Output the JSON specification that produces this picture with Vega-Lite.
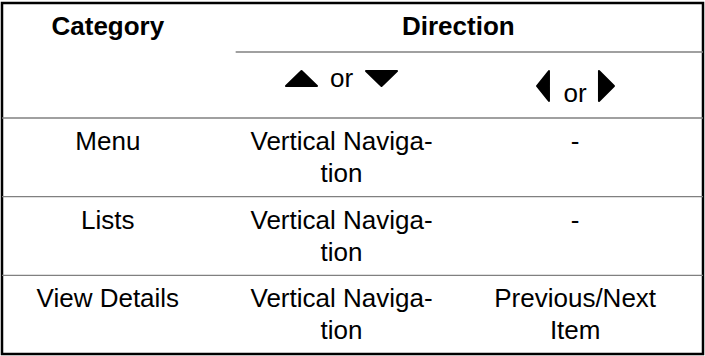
{
  "$schema": "https://vega.github.io/schema/vega-lite/v6.json",
  "width": 701,
  "height": 351,
  "padding": {"left": 2, "top": 3, "right": 2, "bottom": 2},
  "autosize": {"type": "none"},
  "background": "white",
  "config": {
    "view": {"stroke": "black", "strokeWidth": 2.5},
    "text": {"font": "Liberation Sans", "fontSize": 26, "color": "black"}
  },
  "datasets": {
    "cells": [
      {"category": "Menu", "upDown": "Vertical Naviga-\ntion", "leftRight": "-"},
      {"category": "Lists", "upDown": "Vertical Naviga-\ntion", "leftRight": "-"},
      {"category": "View Details", "upDown": "Vertical Naviga-\ntion", "leftRight": "Previous/Next\nItem"}
    ],
    "headers": [
      {"label": "Category", "col": "category"},
      {"label": "Direction", "col": "upDown"}
    ],
    "keys": [
      {"col": "upDown", "joiner": "or"},
      {"col": "leftRight", "joiner": "or"}
    ]
  },
  "resolve": {"scale": {"y": "independent"}},
  "layer": [
    {
      "data": {"name": "cells"},
      "mark": {"type": "rule", "color": "#808080", "strokeWidth": 1.3},
      "encoding": {
        "y": {"field": "category", "type": "nominal", "bandPosition": 0,
              "scale": {"type": "band", "domain": ["Menu", "Lists", "View Details"], "range": [115, 351], "paddingInner": 0, "paddingOuter": 0},
              "axis": null}
      }
    },
    {
      "data": {"name": "cells"},
      "transform": [{"fold": ["category", "upDown", "leftRight"], "as": ["col", "cell"]}],
      "mark": {"type": "text", "align": "center", "baseline": "alphabetic", "lineBreak": "\n", "lineHeight": 32, "dx": -11, "dy": 32},
      "encoding": {
        "x": {"field": "col", "type": "nominal", "bandPosition": 0.5,
              "scale": {"type": "band", "domain": ["category", "upDown", "leftRight"], "paddingInner": 0, "paddingOuter": 0},
              "axis": null},
        "y": {"field": "category", "type": "nominal", "bandPosition": 0,
              "scale": {"type": "band", "domain": ["Menu", "Lists", "View Details"], "range": [115, 351], "paddingInner": 0, "paddingOuter": 0},
              "axis": null},
        "text": {"field": "cell"}
      }
    },
    {
      "data": {"name": "headers"},
      "transform": [{"filter": "datum.label === 'Direction'"}],
      "mark": {"type": "rule", "color": "#808080", "strokeWidth": 1.3},
      "encoding": {
        "x": {"field": "col", "type": "nominal", "bandPosition": 0,
              "scale": {"type": "band", "domain": ["category", "upDown", "leftRight"], "paddingInner": 0, "paddingOuter": 0},
              "axis": null},
        "x2": {"value": "width"},
        "y": {"datum": "keys", "type": "nominal", "bandPosition": 0,
              "scale": {"type": "band", "domain": ["title", "keys"], "range": [0, 98], "paddingInner": 0, "paddingOuter": 0},
              "axis": null}
      }
    },
    {
      "data": {"name": "headers"},
      "transform": [{"filter": "datum.label === 'Category'"}],
      "mark": {"type": "text", "align": "center", "baseline": "alphabetic", "fontWeight": "bold", "dx": -11, "dy": 32},
      "encoding": {
        "x": {"field": "col", "type": "nominal", "bandPosition": 0.5,
              "scale": {"type": "band", "domain": ["category", "upDown", "leftRight"], "paddingInner": 0, "paddingOuter": 0},
              "axis": null},
        "y": {"datum": "title", "type": "nominal", "bandPosition": 0,
              "scale": {"type": "band", "domain": ["title", "keys"], "range": [0, 98], "paddingInner": 0, "paddingOuter": 0},
              "axis": null},
        "text": {"field": "label"}
      }
    },
    {
      "data": {"name": "headers"},
      "transform": [{"filter": "datum.label === 'Direction'"}],
      "mark": {"type": "text", "align": "center", "baseline": "alphabetic", "fontWeight": "bold", "dx": -11, "dy": 32},
      "encoding": {
        "x": {"field": "col", "type": "nominal", "bandPosition": 1,
              "scale": {"type": "band", "domain": ["category", "upDown", "leftRight"], "paddingInner": 0, "paddingOuter": 0},
              "axis": null},
        "y": {"datum": "title", "type": "nominal", "bandPosition": 0,
              "scale": {"type": "band", "domain": ["title", "keys"], "range": [0, 98], "paddingInner": 0, "paddingOuter": 0},
              "axis": null},
        "text": {"field": "label"}
      }
    },
    {
      "data": {"name": "keys"},
      "mark": {"type": "point", "filled": true, "fill": "black", "stroke": "black", "strokeWidth": 2, "strokeJoin": "round", "opacity": 1, "size": 10000},
      "encoding": {
        "x": {"field": "col", "type": "nominal", "bandPosition": 0.5,
              "scale": {"type": "band", "domain": ["category", "upDown", "leftRight"], "paddingInner": 0, "paddingOuter": 0},
              "axis": null},
        "y": {"datum": "keys", "type": "nominal", "bandPosition": 0.5,
              "scale": {"type": "band", "domain": ["title", "keys"], "range": [0, 98], "paddingInner": 0, "paddingOuter": 0},
              "axis": null},
        "shape": {"field": "col", "type": "nominal",
                  "scale": {"domain": ["upDown", "leftRight"],
                            "range": ["M-1.33,0.19L-0.71,0.19L-1.02,-0.11ZM0.27,-0.11L0.89,-0.11L0.58,0.19Z",
                                      "M-0.984,0.19L-0.744,-0.11L-0.744,0.49ZM0.256,-0.11L0.256,0.49L0.556,0.19Z"]},
                  "legend": null}
      }
    },
    {
      "data": {"name": "keys"},
      "transform": [{"filter": "datum.col === 'upDown'"}],
      "mark": {"type": "text", "align": "center", "baseline": "alphabetic", "dx": -11, "dy": 35},
      "encoding": {
        "x": {"field": "col", "type": "nominal", "bandPosition": 0.5,
              "scale": {"type": "band", "domain": ["category", "upDown", "leftRight"], "paddingInner": 0, "paddingOuter": 0},
              "axis": null},
        "y": {"datum": "keys", "type": "nominal", "bandPosition": 0,
              "scale": {"type": "band", "domain": ["title", "keys"], "range": [0, 98], "paddingInner": 0, "paddingOuter": 0},
              "axis": null},
        "text": {"field": "joiner"}
      }
    },
    {
      "data": {"name": "keys"},
      "transform": [{"filter": "datum.col === 'leftRight'"}],
      "mark": {"type": "text", "align": "center", "baseline": "alphabetic", "dx": -11, "dy": 50},
      "encoding": {
        "x": {"field": "col", "type": "nominal", "bandPosition": 0.5,
              "scale": {"type": "band", "domain": ["category", "upDown", "leftRight"], "paddingInner": 0, "paddingOuter": 0},
              "axis": null},
        "y": {"datum": "keys", "type": "nominal", "bandPosition": 0,
              "scale": {"type": "band", "domain": ["title", "keys"], "range": [0, 98], "paddingInner": 0, "paddingOuter": 0},
              "axis": null},
        "text": {"field": "joiner"}
      }
    }
  ]
}
